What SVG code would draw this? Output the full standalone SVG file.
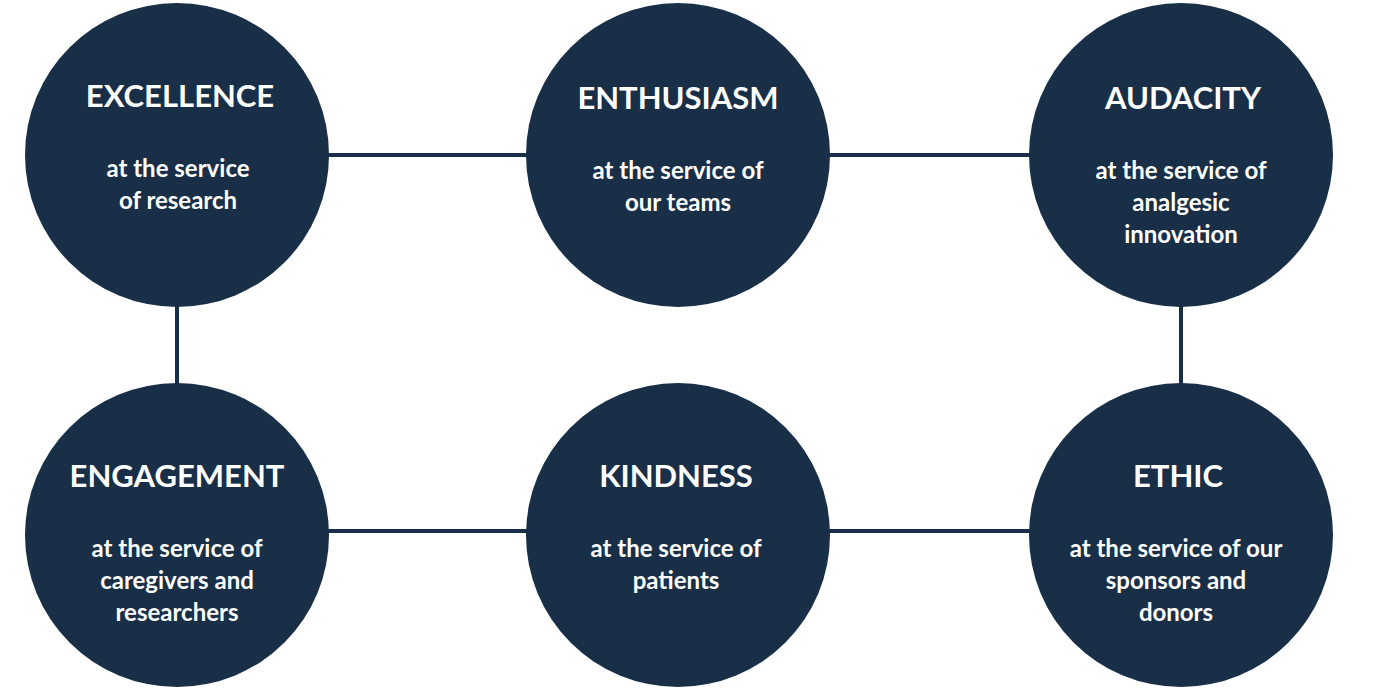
<svg xmlns="http://www.w3.org/2000/svg" width="1373" height="692" viewBox="0 0 1373 692">
<style>
circle{fill:#182f47}
.t{font-family:Lato,"Liberation Sans",sans-serif;font-weight:bold;fill:#fff;text-anchor:middle}
.h{font-size:31px}
.b{font-size:24px}
line{stroke:#182f47;stroke-width:4}
</style>
<rect width="1373" height="692" fill="#fff"/>
<g id="connectors">
<line x1="320" y1="155" x2="535" y2="155"/>
<line x1="820" y1="155" x2="1040" y2="155"/>
<line x1="320" y1="531" x2="535" y2="531"/>
<line x1="820" y1="531" x2="1040" y2="531"/>
<line x1="177" y1="300" x2="177" y2="390"/>
<line x1="1181" y1="300" x2="1181" y2="390"/>
</g>
<g id="excellence"><circle cx="177" cy="155" r="152"/><text class="t h" x="180" y="107">EXCELLENCE</text><text class="t b" x="178" y="177">at the service</text><text class="t b" x="178" y="209">of research</text></g>
<g id="enthusiasm"><circle cx="678" cy="155" r="152"/><text class="t h" x="678" y="109">ENTHUSIASM</text><text class="t b" x="678" y="179">at the service of</text><text class="t b" x="678" y="211">our teams</text></g>
<g id="audacity"><circle cx="1181" cy="155" r="152"/><text class="t h" x="1183" y="109">AUDACITY</text><text class="t b" x="1181" y="179">at the service of</text><text class="t b" x="1181" y="211">analgesic</text><text class="t b" x="1181" y="243">innovation</text></g>
<g id="engagement"><circle cx="177" cy="535" r="152"/><text class="t h" x="177" y="487">ENGAGEMENT</text><text class="t b" x="177" y="557">at the service of</text><text class="t b" x="177" y="589">caregivers and</text><text class="t b" x="177" y="621">researchers</text></g>
<g id="kindness"><circle cx="678" cy="535" r="152"/><text class="t h" x="676" y="487">KINDNESS</text><text class="t b" x="676" y="557">at the service of</text><text class="t b" x="676" y="589">patients</text></g>
<g id="ethic"><circle cx="1181" cy="535" r="152"/><text class="t h" x="1178" y="487">ETHIC</text><text class="t b" x="1176" y="557">at the service of our</text><text class="t b" x="1176" y="589">sponsors and</text><text class="t b" x="1176" y="621">donors</text></g>
</svg>
